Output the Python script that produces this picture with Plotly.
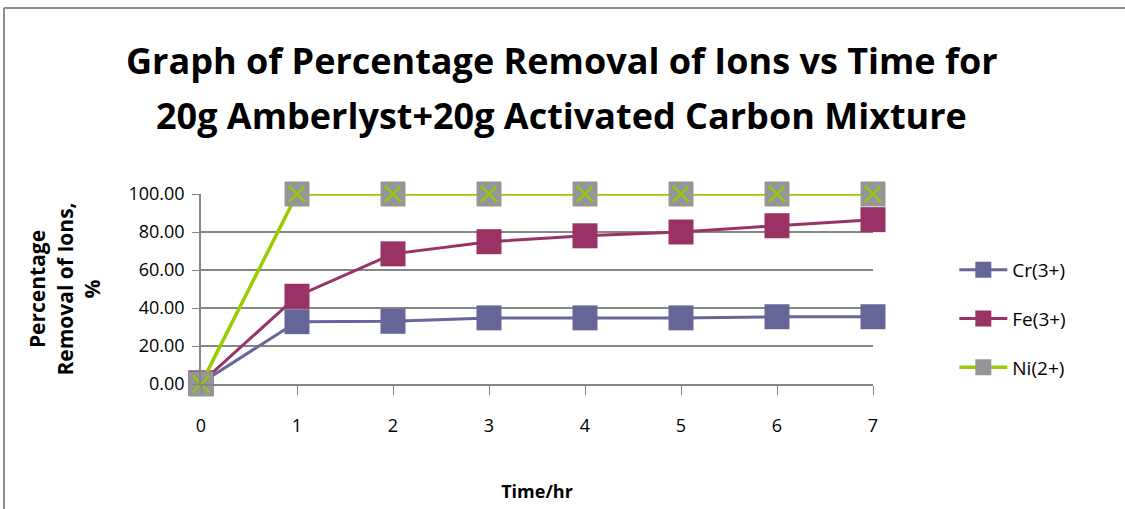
import plotly.graph_objects as go

time_hr = [0, 1, 2, 3, 4, 5, 6, 7]
cr_3 = [0.5, 32.8, 33.0, 34.8, 34.8, 34.8, 35.4, 35.4]
fe_3 = [0.5, 46.2, 68.5, 74.9, 78.0, 80.0, 83.3, 86.5]
ni_2 = [0.0, 100.0, 100.0, 100.0, 100.0, 100.0, 100.0, 100.0]
y_ticks = [0, 20, 40, 60, 80, 100]
y_tick_labels = ["0.00", "20.00", "40.00", "60.00", "80.00", "100.00"]
title_lines = ["Graph of Percentage Removal of Ions vs Time for",
               "20g Amberlyst+20g Activated Carbon Mixture"]

CR_COLOR = "#666699"
FE_COLOR = "#993366"
NI_COLOR = "#99CC00"
MARKER_GRAY = "#969696"
GRID = "#868686"
FONT = "Open Sans"

fig = go.Figure()
fig.add_trace(go.Scatter(
    x=time_hr, y=cr_3, name="Cr(3+)", mode="lines+markers",
    line=dict(color=CR_COLOR, width=3),
    marker=dict(symbol="square", size=25, color=CR_COLOR, line=dict(width=0)),
    legendgroup="cr", cliponaxis=False,
))
fig.add_trace(go.Scatter(
    x=time_hr, y=fe_3, name="Fe(3+)", mode="lines+markers",
    line=dict(color=FE_COLOR, width=3),
    marker=dict(symbol="square", size=25, color=FE_COLOR, line=dict(width=0)),
    legendgroup="fe", cliponaxis=False,
))
fig.add_trace(go.Scatter(
    x=time_hr, y=ni_2, name="Ni(2+)", mode="lines+markers",
    line=dict(color=NI_COLOR, width=3.5),
    marker=dict(symbol="square", size=25, color=MARKER_GRAY, line=dict(width=0)),
    legendgroup="ni", cliponaxis=False,
))
fig.add_trace(go.Scatter(
    x=time_hr, y=ni_2, name="Ni(2+)", mode="markers", showlegend=False,
    marker=dict(symbol="x-thin-open", size=16, color=NI_COLOR,
                line=dict(color=NI_COLOR, width=2)),
    legendgroup="ni", hoverinfo="skip", cliponaxis=False,
))

annotations = [
    dict(text="<b>%s</b>" % title_lines[0], xref="paper", yref="paper",
         x=0.537, y=(384 - 60) / 190, xanchor="center", yanchor="middle",
         showarrow=False, font=dict(family=FONT, size=36, color="black")),
    dict(text="<b>%s</b>" % title_lines[1], xref="paper", yref="paper",
         x=0.537, y=(384 - 115) / 190, xanchor="center", yanchor="middle",
         showarrow=False, font=dict(family=FONT, size=36, color="black")),
]

fig.update_layout(
    width=1125, height=509,
    margin=dict(l=201, r=252, t=194, b=125),
    paper_bgcolor="white", plot_bgcolor="white",
    font=dict(family=FONT, color="black", size=18),
    annotations=annotations,
    xaxis=dict(
        range=[0, 7], tickvals=time_hr, ticktext=[str(t) for t in time_hr],
        showgrid=False, zeroline=False, automargin=False,
        showline=True, linecolor=GRID, linewidth=1.5,
        ticks="outside", ticklen=9, tickcolor=GRID, tickwidth=1.2,
        tickfont=dict(size=18), ticklabelstandoff=16,
        title=dict(text="<b>Time/hr</b>", font=dict(size=18), standoff=49),
    ),
    yaxis=dict(
        range=[0, 100], tickvals=y_ticks, ticktext=y_tick_labels,
        showgrid=True, gridcolor=GRID, gridwidth=1.5, zeroline=False, automargin=False,
        showline=True, linecolor=GRID, linewidth=1.5,
        ticks="outside", ticklen=7, tickcolor=GRID, tickwidth=1.2,
        tickfont=dict(size=18), ticklabelstandoff=4,
        title=dict(text="<b>Percentage<br>Removal of Ions,<br>%</b>", font=dict(size=21), standoff=22),
    ),
    legend=dict(
        x=1.121, y=0.70, xanchor="left", yanchor="top",
        font=dict(size=19), bgcolor="rgba(0,0,0,0)",
        traceorder="grouped", tracegroupgap=21, itemwidth=48,
    ),
    shapes=[
        dict(type="line", xref="paper", yref="paper",
             x0=(4 - 201) / 672, x1=(1125 - 201) / 672,
             y0=(384 - 8) / 190, y1=(384 - 8) / 190,
             line=dict(color="#8c8c8c", width=2)),
        dict(type="line", xref="paper", yref="paper",
             x0=(4 - 201) / 672, x1=(4 - 201) / 672,
             y0=(384 - 8) / 190, y1=(384 - 509) / 190,
             line=dict(color="#8c8c8c", width=2)),
    ],
)

fig.write_html("out.html")
